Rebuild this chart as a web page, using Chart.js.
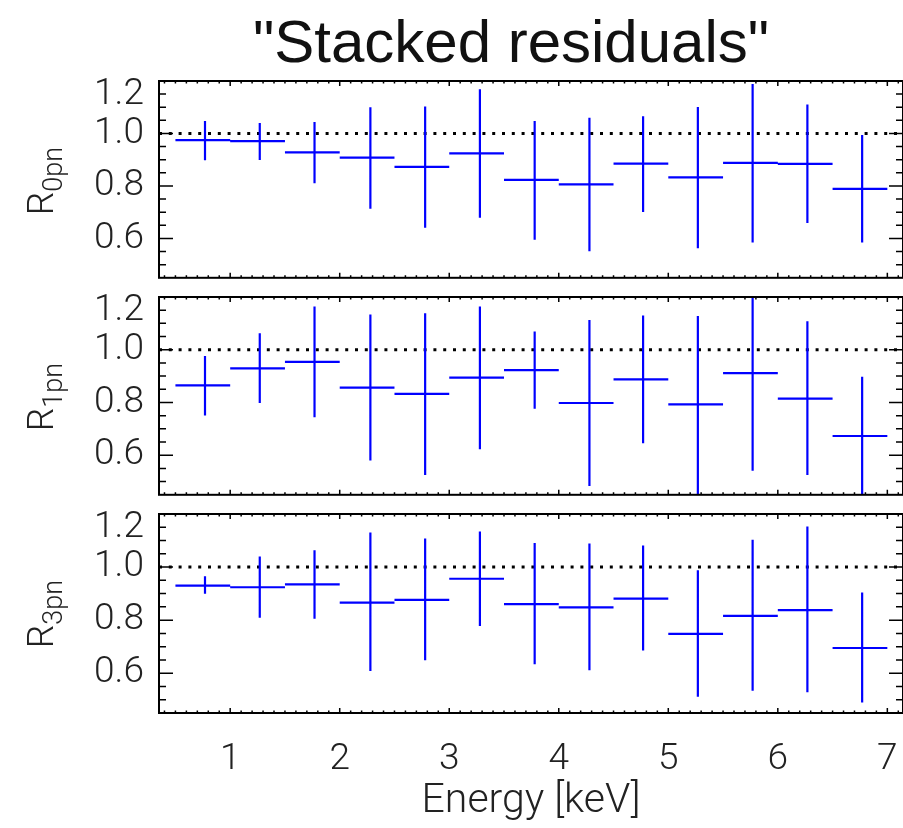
<!DOCTYPE html>
<html>
<head>
<meta charset="utf-8">
<script src="https://cdn.jsdelivr.net/npm/chart.js@4.4.1/dist/chart.umd.min.js"></script>
<style>
  html, body { margin: 0; padding: 0; background: #fff; }
  #wrap { position: relative; width: 903px; height: 828px; overflow: hidden; font-family: Roboto, "DejaVu Sans", sans-serif; }
  canvas { position: absolute; left: 0; }
  .title { position: absolute; top: 12px; left: 511px; transform: translateX(-50%); font-family: "Liberation Sans", Arial, sans-serif; font-size: 60px; line-height: 60px; white-space: nowrap; color: #111; }
  .ylab { position: absolute; left: 47px; transform: translate(-50%, -50%) rotate(-90deg); font-size: 37px; font-weight: 300; color: #222; white-space: nowrap; line-height: 40px; }
  .ylab sub { font-size: 27px; vertical-align: -0.3em; }
</style>
</head>
<body>
<div id="wrap">
  <canvas id="p0" width="903" height="300" style="top:0px"></canvas>
  <canvas id="p1" width="903" height="260" style="top:257px"></canvas>
  <canvas id="p2" width="903" height="354" style="top:474px"></canvas>
  <div class="title">"Stacked residuals"</div>
  <div class="ylab" style="top:181px">R<sub>0pn</sub></div>
  <div class="ylab" style="top:397px">R<sub>1pn</sub></div>
  <div class="ylab" style="top:614px">R<sub>3pn</sub></div>
</div>
<script>
// energy bins (keV): vertical bar position and bin edges
var energy = [0.77, 1.27, 1.77, 2.28, 2.78, 3.28, 3.78, 4.28, 4.77, 5.27, 5.77, 6.27, 6.77];
var binLo  = [0.5, 1.0, 1.5, 2.0, 2.5, 3.0, 3.5, 4.0, 4.5, 5.0, 5.5, 6.0, 6.5];
var binHi  = [1.0, 1.5, 2.0, 2.5, 3.0, 3.5, 4.0, 4.5, 5.0, 5.5, 6.0, 6.5, 7.0];

// R_0pn
var r0   = [0.975, 0.971, 0.928, 0.908, 0.873, 0.924, 0.823, 0.806, 0.885, 0.833, 0.888, 0.884, 0.789];
var r0Hi = [1.048, 1.040, 1.044, 1.100, 1.103, 1.169, 1.048, 1.060, 1.066, 1.101, 1.189, 1.110, 0.994];
var r0Lo = [0.898, 0.899, 0.810, 0.713, 0.641, 0.679, 0.595, 0.551, 0.701, 0.563, 0.585, 0.659, 0.585];

// R_1pn
var r1   = [0.865, 0.929, 0.954, 0.856, 0.833, 0.894, 0.923, 0.798, 0.888, 0.793, 0.911, 0.815, 0.673];
var r1Hi = [0.976, 1.063, 1.164, 1.134, 1.138, 1.164, 1.069, 1.113, 1.130, 1.128, 1.210, 1.108, 0.898];
var r1Lo = [0.751, 0.798, 0.744, 0.580, 0.525, 0.623, 0.776, 0.483, 0.645, 0.450, 0.541, 0.525, 0.445];

// R_3pn
var r3   = [0.930, 0.924, 0.935, 0.866, 0.876, 0.956, 0.860, 0.848, 0.881, 0.748, 0.816, 0.838, 0.695];
var r3Hi = [0.965, 1.040, 1.063, 1.130, 1.108, 1.134, 1.091, 1.089, 1.081, 0.988, 1.103, 1.153, 0.904];
var r3Lo = [0.899, 0.809, 0.805, 0.608, 0.649, 0.778, 0.634, 0.611, 0.686, 0.511, 0.534, 0.528, 0.490];

var xTicks = [1, 2, 3, 4, 5, 6, 7];
var yTicks = [0.6, 0.8, 1.0, 1.2];
var xMin = 0.35, xMax = 7.143;
var yMin = 0.45, yMax = 1.2;
var refLevel = 1.0;

var FONT = 'Roboto, "DejaVu Sans", sans-serif';
var TXT = '#222';

// IDL style box with inward ticks on all sides
var frame = {
  id: 'frame',
  afterDraw: function(chart) {
    var ctx = chart.ctx, a = chart.chartArea, x = chart.scales.x, y = chart.scales.y;
    ctx.save();
    ctx.strokeStyle = '#000';
    ctx.lineWidth = 2;
    ctx.strokeRect(a.left, a.top, a.right - a.left, a.bottom - a.top);
    ctx.lineWidth = 1.5;
    ctx.beginPath();
    for (var k = 4; k <= 71; k++) {
      var px = x.getPixelForValue(k / 10);
      var len = (k % 10 === 0) ? 5 : 2.5;
      ctx.moveTo(px, a.bottom); ctx.lineTo(px, a.bottom - len);
      ctx.moveTo(px, a.top); ctx.lineTo(px, a.top + len);
    }
    for (var j = 10; j <= 23; j++) {
      var py = y.getPixelForValue(j / 20);
      var l = (j % 4 === 0) ? 14 : 7;
      ctx.moveTo(a.left, py); ctx.lineTo(a.left + l, py);
      ctx.moveTo(a.right, py); ctx.lineTo(a.right - l, py);
    }
    ctx.stroke();
    ctx.restore();
  }
};

function makePanel(id, ratio, hi, lo, showX, pad) {
  var crosses = [];
  for (var i = 0; i < energy.length; i++) {
    crosses.push({x: binLo[i], y: ratio[i]}, {x: binHi[i], y: ratio[i]}, {x: binHi[i], y: null});
    crosses.push({x: energy[i], y: lo[i]}, {x: energy[i], y: hi[i]}, {x: energy[i], y: null});
  }
  return new Chart(document.getElementById(id), {
    type: 'line',
    data: {
      datasets: [
        {
          data: crosses,
          borderColor: '#0000ff',
          borderWidth: 2.2,
          pointRadius: 0,
          spanGaps: false,
          tension: 0
        },
        {
          data: [{x: xMin, y: refLevel}, {x: xMax, y: refLevel}],
          borderColor: '#000',
          borderWidth: 3,
          borderDash: [3, 6.8],
          pointRadius: 0
        }
      ]
    },
    options: {
      responsive: false,
      animation: false,
      events: [],
      layout: {padding: pad},
      plugins: {legend: {display: false}, tooltip: {enabled: false}},
      scales: {
        x: {
          type: 'linear',
          display: showX,
          min: xMin,
          max: xMax,
          afterBuildTicks: function(s) { s.ticks = xTicks.map(function(v) { return {value: v}; }); },
          afterFit: function(s) { s.height = showX ? 115 : 0; },
          grid: {display: false, drawTicks: true, tickLength: 25},
          border: {display: false},
          ticks: {
            display: showX,
            padding: 0,
            maxRotation: 0,
            autoSkip: false,
            color: TXT,
            font: {family: FONT, size: 37, weight: 300},
            callback: function(v) { return String(v); }
          },
          title: {
            display: showX,
            text: 'Energy [keV]',
            color: TXT,
            font: {family: FONT, size: 41, weight: 300},
            padding: {top: 0, bottom: 2}
          }
        },
        y: {
          type: 'linear',
          min: yMin,
          max: yMax,
          afterBuildTicks: function(s) { s.ticks = yTicks.map(function(v) { return {value: v}; }); },
          afterFit: function(s) { s.width = 159; },
          grid: {display: false, drawTicks: true, tickLength: 15},
          border: {display: false},
          ticks: {
            padding: 0,
            color: TXT,
            font: function(c) {
              // top label sits a bit below the box edge, as in the original
              if (c.tick && c.tick.value === 1.2) return {family: FONT, size: 37, weight: 300, lineHeight: 0.76};
              return {family: FONT, size: 37, weight: 300, lineHeight: 1.2};
            },
            callback: function(v) { return v === 1.2 ? ['', '1.2'] : v.toFixed(1); }
          }
        }
      }
    },
    plugins: [frame]
  });
}

makePanel('p0', r0, r0Hi, r0Lo, false, {top: 81, bottom: 20, left: 0, right: 0});
makePanel('p1', r1, r1Hi, r1Lo, false, {top: 40, bottom: 21, left: 0, right: 0});
makePanel('p2', r3, r3Hi, r3Lo, true, {top: 40, bottom: 0, left: 0, right: 0});
</script>
</body>
</html>
